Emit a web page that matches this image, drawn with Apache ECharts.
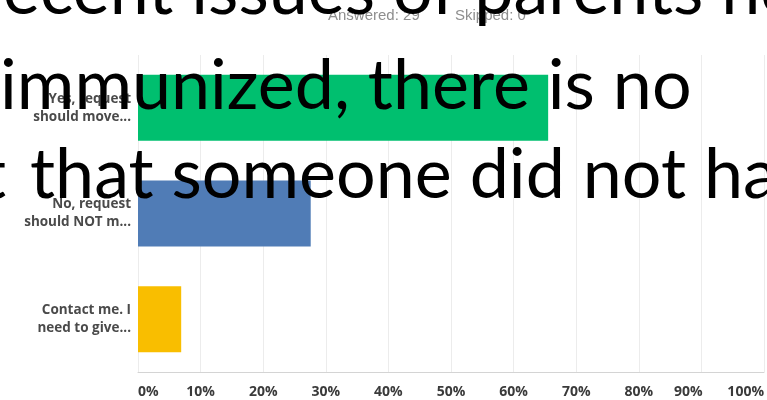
<!DOCTYPE html>
<html>
<head>
<meta charset="utf-8">
<script src="https://cdn.jsdelivr.net/npm/echarts@6/dist/echarts.min.js"></script>
<style>
html,body{margin:0;padding:0;background:#fff;}
#c{width:767px;height:400px;}
</style>
</head>
<body>
<div id="c"></div>
<script>
const categories = ['Yes, request\nshould move...', 'No, request\nshould NOT m...', 'Contact me. I\nneed to give...'];
const values = [65.52, 27.59, 6.90];
const barColors = ['#00bf6f', '#507cb6', '#f9be00'];
const answeredText = 'Answered: 29';
const skippedText = 'Skipped: 0';
const overlayLine1 = 'ecent issues of parents not';
const overlayLine2 = 'immunized, there is no';
const overlayLine3a = 't';
const overlayLine3b = 'that someone did not have';

const chart = echarts.init(document.getElementById('c'), null, {renderer: 'canvas'});
const bigFont = '70px Lato';
const option = {
  animation: false,
  backgroundColor: '#ffffff',
  grid: {left: 138, right: 2, top: 55, bottom: 28, containLabel: false},
  xAxis: {
    type: 'value', min: 0, max: 100, interval: 10,
    axisLine: {show: true, lineStyle: {color: '#d4d4d4', width: 1}},
    axisTick: {show: false},
    splitLine: {show: true, lineStyle: {color: '#ececec', width: 1}},
    axisLabel: {
      margin: 13, color: '#3a3a3a', fontSize: 14, fontWeight: 'bold', fontFamily: 'Open Sans',
      alignMinLabel: 'left', alignMaxLabel: 'right',
      formatter: function (v) { return v === 90 ? '{s|' + v + '%}' : v + '%'; },
      rich: {s: {color: '#3a3a3a', fontSize: 14, fontWeight: 'bold', fontFamily: 'Open Sans', padding: [0, 26, 0, 0]}}
    }
  },
  yAxis: {
    type: 'category', inverse: true, data: categories,
    axisLine: {show: false}, axisTick: {show: false}, splitLine: {show: false},
    axisLabel: {margin: 7, color: '#4a4a4a', fontSize: 13.5, fontWeight: 'bold', fontFamily: 'Open Sans', lineHeight: 18, align: 'right'}
  },
  series: [{
    type: 'bar', barWidth: 66, silent: true,
    data: values.map((v, i) => ({value: v, itemStyle: {color: barColors[i]}}))
  }],
  graphic: [
    {type: 'text', x: 328, y: 16, z: 5, style: {text: answeredText, font: '15px "Liberation Sans"', fill: '#8e8e8e', verticalAlign: 'middle'}},
    {type: 'text', x: 455, y: 16, z: 5, style: {text: skippedText, font: '15px "Liberation Sans"', fill: '#8e8e8e', verticalAlign: 'middle'}},
    {type: 'text', x: 3, y: 26, z: 100, style: {text: overlayLine1, font: bigFont, fill: '#000', verticalAlign: 'bottom'}},
    {type: 'text', x: 0, y: 121, z: 100, style: {text: overlayLine2, font: bigFont, fill: '#000', verticalAlign: 'bottom'}},
    {type: 'text', x: -19, y: 210, z: 100, style: {text: overlayLine3a, font: bigFont, fill: '#000', verticalAlign: 'bottom'}},
    {type: 'text', x: 30, y: 210, z: 100, style: {text: overlayLine3b, font: bigFont, fill: '#000', verticalAlign: 'bottom'}}
  ]
};
chart.setOption(option);
</script>
</body>
</html>
